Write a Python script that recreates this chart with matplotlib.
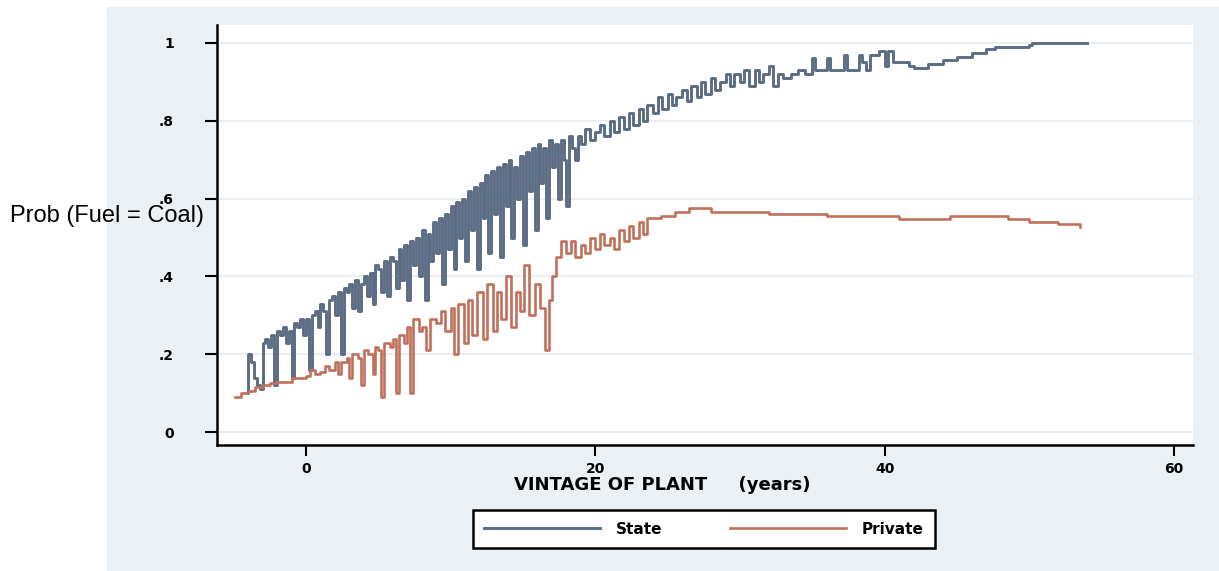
import matplotlib
matplotlib.use('Agg')
import matplotlib.pyplot as plt
from matplotlib.patches import Rectangle

# vintage of plant (years) and predicted probability, state-owned plants
state_x = [-4.1, -4.0, -3.8, -3.6, -3.4, -3.2, -3.0, -2.8, -2.6, -2.4, -2.2, -2.0,
           -1.8, -1.6, -1.4, -1.2, -1.0, -0.8, -0.6, -0.4, -0.2, 0.0, 0.2, 0.4,
           0.6, 0.8, 1.0, 1.2, 1.4, 1.6, 1.8, 2.0, 2.2, 2.4, 2.6, 2.8, 3.0, 3.2,
           3.4, 3.6, 3.8, 4.0, 4.2, 4.4, 4.6, 4.8, 5.0, 5.2, 5.4, 5.6, 5.8, 6.0,
           6.2, 6.4, 6.6, 6.8, 7.0, 7.2, 7.4, 7.6, 7.8, 8.0, 8.2, 8.4, 8.6, 8.8,
           9.0, 9.2, 9.4, 9.6, 9.8, 10.0, 10.2, 10.4, 10.6, 10.8, 11.0, 11.2,
           11.4, 11.6, 11.8, 12.0, 12.2, 12.4, 12.6, 12.8, 13.0, 13.2, 13.4,
           13.6, 13.8, 14.0, 14.2, 14.4, 14.6, 14.8, 15.0, 15.2, 15.4, 15.6,
           15.8, 16.0, 16.2, 16.4, 16.6, 16.8, 17.0, 17.2, 17.4, 17.6, 17.8,
           18.0, 18.2, 18.4, 18.6, 18.8, 19.0, 19.3, 19.6, 20.0, 20.3, 20.6,
           21.0, 21.3, 21.6, 22.0, 22.3, 22.6, 23.0, 23.3, 23.6, 24.0, 24.3,
           24.6, 25.0, 25.3, 25.6, 26.0, 26.3, 26.6, 27.0, 27.3, 27.6, 28.0,
           28.3, 28.6, 29.0, 29.3, 29.6, 30.0, 30.3, 30.6, 31.0, 31.3, 31.6,
           32.0, 32.3, 32.6, 33.0, 33.5, 34.0, 34.5, 35.0, 35.2, 35.8, 36.0,
           36.2, 37.0, 37.2, 37.4, 38.0, 38.2, 38.4, 38.7, 39.0, 39.6, 40.0,
           40.2, 40.6, 41.0, 41.7, 42.0, 43.0, 44.0, 45.0, 46.0, 47.0, 47.6,
           50.0, 50.2, 54.0]
state_y = [0.10, 0.20, 0.18, 0.14, 0.12, 0.11, 0.23, 0.24, 0.22, 0.25, 0.12, 0.26,
           0.25, 0.27, 0.23, 0.26, 0.14, 0.28, 0.27, 0.29, 0.25, 0.29, 0.16, 0.30,
           0.31, 0.27, 0.33, 0.31, 0.20, 0.34, 0.35, 0.30, 0.36, 0.20, 0.37, 0.36,
           0.38, 0.32, 0.39, 0.31, 0.38, 0.40, 0.35, 0.41, 0.33, 0.43, 0.42, 0.36,
           0.44, 0.35, 0.45, 0.44, 0.37, 0.47, 0.39, 0.48, 0.34, 0.49, 0.43, 0.50,
           0.40, 0.52, 0.34, 0.51, 0.44, 0.54, 0.46, 0.55, 0.38, 0.56, 0.47, 0.58,
           0.42, 0.59, 0.50, 0.60, 0.44, 0.62, 0.52, 0.63, 0.42, 0.64, 0.55, 0.66,
           0.46, 0.67, 0.56, 0.68, 0.45, 0.69, 0.58, 0.70, 0.50, 0.68, 0.60, 0.71,
           0.48, 0.72, 0.62, 0.73, 0.52, 0.74, 0.64, 0.73, 0.55, 0.75, 0.68, 0.74,
           0.60, 0.75, 0.70, 0.58, 0.76, 0.73, 0.70, 0.76, 0.74, 0.78, 0.75, 0.77,
           0.79, 0.76, 0.80, 0.77, 0.81, 0.78, 0.82, 0.79, 0.83, 0.80, 0.84, 0.82,
           0.86, 0.83, 0.87, 0.84, 0.86, 0.88, 0.85, 0.89, 0.86, 0.90, 0.87, 0.91,
           0.88, 0.90, 0.92, 0.89, 0.92, 0.90, 0.93, 0.89, 0.93, 0.90, 0.92, 0.94,
           0.89, 0.92, 0.91, 0.92, 0.93, 0.92, 0.96, 0.93, 0.93, 0.96, 0.93, 0.93,
           0.97, 0.93, 0.93, 0.97, 0.95, 0.93, 0.97, 0.98, 0.94, 0.98, 0.95, 0.95,
           0.94, 0.935, 0.945, 0.955, 0.965, 0.975, 0.985, 0.99, 0.995, 1.0, 1.0]

# privately owned plants
private_x = [-4.9, -4.5, -4.0, -3.5, -3.0, -2.5, -2.0, -1.5, -1.0, -0.5, 0.0, 0.3,
             0.6, 1.0, 1.3, 1.6, 2.0, 2.2, 2.4, 2.8, 3.0, 3.2, 3.6, 3.8, 4.0,
             4.3, 4.6, 4.8, 5.0, 5.2, 5.4, 5.8, 6.0, 6.2, 6.4, 6.8, 7.0, 7.2,
             7.4, 7.8, 8.0, 8.3, 8.6, 9.0, 9.3, 9.6, 10.0, 10.2, 10.5, 10.9,
             11.2, 11.5, 11.8, 12.2, 12.5, 12.9, 13.2, 13.5, 13.8, 14.2, 14.5,
             14.8, 15.1, 15.4, 15.8, 16.2, 16.5, 16.8, 17.0, 17.3, 17.6, 18.0,
             18.3, 18.6, 19.0, 19.3, 19.6, 20.0, 20.3, 20.6, 21.0, 21.3, 21.6,
             22.0, 22.3, 22.6, 23.0, 23.3, 23.6, 24.5, 25.5, 26.5, 28.0, 32.0,
             36.0, 41.0, 44.5, 48.5, 50.0, 52.0, 53.5]
private_y = [0.09, 0.10, 0.105, 0.115, 0.12, 0.125, 0.13, 0.13, 0.14, 0.14, 0.145,
             0.16, 0.15, 0.155, 0.17, 0.16, 0.18, 0.15, 0.18, 0.19, 0.14, 0.20,
             0.19, 0.12, 0.21, 0.20, 0.15, 0.22, 0.21, 0.09, 0.23, 0.22, 0.24,
             0.10, 0.25, 0.23, 0.27, 0.10, 0.29, 0.26, 0.27, 0.21, 0.29, 0.28,
             0.31, 0.26, 0.32, 0.20, 0.33, 0.23, 0.34, 0.25, 0.36, 0.24, 0.38,
             0.26, 0.36, 0.29, 0.40, 0.27, 0.36, 0.31, 0.43, 0.30, 0.38, 0.32,
             0.21, 0.34, 0.40, 0.45, 0.49, 0.46, 0.49, 0.45, 0.48, 0.46, 0.50,
             0.47, 0.51, 0.48, 0.50, 0.47, 0.52, 0.49, 0.53, 0.50, 0.54, 0.51,
             0.55, 0.555, 0.565, 0.575, 0.565, 0.56, 0.555, 0.548, 0.555, 0.548,
             0.54, 0.535, 0.527]

yticks = [0, 0.2, 0.4, 0.6, 0.8, 1]
ytick_labels = ['0', '.2', '.4', '.6', '.8', '1']
xticks = [0, 20, 40, 60]

state_color = '#5b6d84'
private_color = '#c0705b'
panel_color = '#eaf0f3'

fig = plt.figure(figsize=(12.19, 5.71), dpi=100)
fig.patches.append(Rectangle((107 / 1219, 0), 1 - 107 / 1219, 564 / 571,
                             transform=fig.transFigure, color=panel_color, zorder=-5))

ax = fig.add_axes([217 / 1219, 126 / 571, 976 / 1219, 420 / 571])
ax.set_zorder(2)
ax.set_facecolor('white')

ax.plot(state_x, state_y, color=state_color, lw=2.1, drawstyle='steps-post', label='State')
ax.plot(private_x, private_y, color=private_color, lw=1.9, drawstyle='steps-post', label='Private')

ax.set_xlim(-6.15, 61.3)
ax.set_ylim(-0.033, 1.046)
ax.set_yticks(yticks)
ax.set_yticklabels(ytick_labels)
ax.set_xticks(xticks)
for t in yticks:
    ax.axhline(t, color='#e9eef2', lw=1.5, zorder=0)

for s in ['top', 'right']:
    ax.spines[s].set_visible(False)
for s in ['left', 'bottom']:
    ax.spines[s].set_linewidth(1.8)

ax.tick_params(axis='y', length=9, width=1.5, pad=22, labelsize=10)
ax.tick_params(axis='x', length=8, width=1.5, pad=4, labelsize=10)
for lab in ax.get_xticklabels() + ax.get_yticklabels():
    lab.set_fontweight('bold')

fig.text(662 / 1219, 1 - 485 / 571, 'VINTAGE OF PLANT     (years)', ha='center', va='center',
         fontsize=13, fontweight='bold')
fig.text(10 / 1219, 1 - 216 / 571, 'Prob (Fuel = Coal)', ha='left', va='center',
         fontsize=17, family='Liberation Sans', zorder=3)

leg = fig.legend(loc='center', bbox_to_anchor=(704 / 1219, 1 - 529 / 571), ncol=2,
                 fancybox=False, edgecolor='black', framealpha=1, fontsize=11,
                 handlelength=7.6, columnspacing=4.4, handletextpad=1.05,
                 borderpad=0.75)
leg.get_frame().set_linewidth(1.8)
for txt in leg.get_texts():
    txt.set_fontweight('bold')

fig.savefig('out.png', dpi=100)
